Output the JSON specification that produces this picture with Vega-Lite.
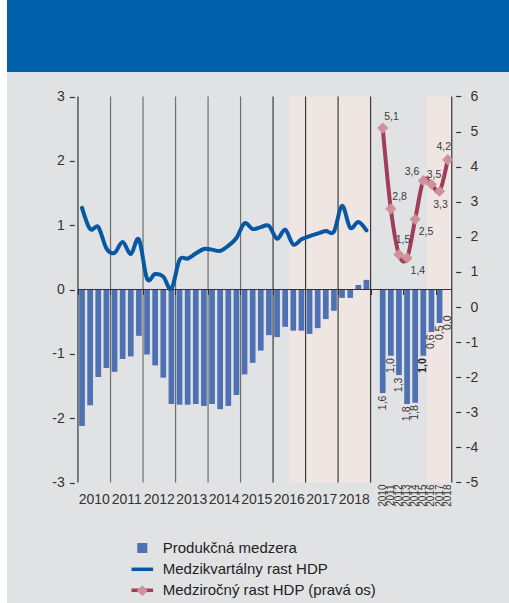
{
  "$schema": "https://vega.github.io/schema/vega-lite/v6.json",
  "background": "#FFFFFF",
  "padding": {"left": 7, "top": 0, "right": 0, "bottom": 0},
  "autosize": {"type": "pad"},
  "spacing": 0,
  "bounds": "flush",
  "config": {
    "font": "Liberation Sans",
    "view": {"stroke": null},
    "text": {"font": "Liberation Sans"},
    "axis": {"labelFont": "Liberation Sans", "zindex": 1},
    "legend": {"labelFont": "Liberation Sans"}
  },
  "datasets": {
    "quarters": [
      {"k": 0, "year": 2010, "q": 1, "gap": -2.12, "qoq": 1.27},
      {"k": 1, "year": 2010, "q": 2, "gap": -1.80, "qoq": 0.94},
      {"k": 2, "year": 2010, "q": 3, "gap": -1.36, "qoq": 0.97},
      {"k": 3, "year": 2010, "q": 4, "gap": -1.22, "qoq": 0.64},
      {"k": 4, "year": 2011, "q": 1, "gap": -1.28, "qoq": 0.57},
      {"k": 5, "year": 2011, "q": 2, "gap": -1.08, "qoq": 0.74},
      {"k": 6, "year": 2011, "q": 3, "gap": -1.04, "qoq": 0.55},
      {"k": 7, "year": 2011, "q": 4, "gap": -0.72, "qoq": 0.78},
      {"k": 8, "year": 2012, "q": 1, "gap": -1.01, "qoq": 0.17},
      {"k": 9, "year": 2012, "q": 2, "gap": -1.18, "qoq": 0.24},
      {"k": 10, "year": 2012, "q": 3, "gap": -1.37, "qoq": 0.20},
      {"k": 11, "year": 2012, "q": 4, "gap": -1.78, "qoq": 0.01},
      {"k": 12, "year": 2013, "q": 1, "gap": -1.79, "qoq": 0.46},
      {"k": 13, "year": 2013, "q": 2, "gap": -1.79, "qoq": 0.48},
      {"k": 14, "year": 2013, "q": 3, "gap": -1.78, "qoq": 0.56},
      {"k": 15, "year": 2013, "q": 4, "gap": -1.81, "qoq": 0.63},
      {"k": 16, "year": 2014, "q": 1, "gap": -1.78, "qoq": 0.62},
      {"k": 17, "year": 2014, "q": 2, "gap": -1.86, "qoq": 0.60},
      {"k": 18, "year": 2014, "q": 3, "gap": -1.81, "qoq": 0.68},
      {"k": 19, "year": 2014, "q": 4, "gap": -1.64, "qoq": 0.80},
      {"k": 20, "year": 2015, "q": 1, "gap": -1.32, "qoq": 1.03},
      {"k": 21, "year": 2015, "q": 2, "gap": -1.14, "qoq": 0.94},
      {"k": 22, "year": 2015, "q": 3, "gap": -0.95, "qoq": 0.97},
      {"k": 23, "year": 2015, "q": 4, "gap": -0.71, "qoq": 0.99},
      {"k": 24, "year": 2016, "q": 1, "gap": -0.74, "qoq": 0.79},
      {"k": 25, "year": 2016, "q": 2, "gap": -0.58, "qoq": 0.93},
      {"k": 26, "year": 2016, "q": 3, "gap": -0.64, "qoq": 0.70},
      {"k": 27, "year": 2016, "q": 4, "gap": -0.64, "qoq": 0.78},
      {"k": 28, "year": 2017, "q": 1, "gap": -0.69, "qoq": 0.83},
      {"k": 29, "year": 2017, "q": 2, "gap": -0.60, "qoq": 0.87},
      {"k": 30, "year": 2017, "q": 3, "gap": -0.46, "qoq": 0.91},
      {"k": 31, "year": 2017, "q": 4, "gap": -0.33, "qoq": 0.90},
      {"k": 32, "year": 2018, "q": 1, "gap": -0.13, "qoq": 1.30},
      {"k": 33, "year": 2018, "q": 2, "gap": -0.13, "qoq": 0.96},
      {"k": 34, "year": 2018, "q": 3, "gap": 0.07, "qoq": 1.05},
      {"k": 35, "year": 2018, "q": 4, "gap": 0.15, "qoq": 0.92}
    ],
    "annual": [
      {"k": 37, "year": 2010, "gap": -1.61, "gapLabel": "1,6", "yoy": 5.1, "yoyLabel": "5,1"},
      {"k": 38, "year": 2011, "gap": -1.03, "gapLabel": "1,0", "yoy": 2.8, "yoyLabel": "2,8"},
      {"k": 39, "year": 2012, "gap": -1.33, "gapLabel": "1,3", "yoy": 1.5, "yoyLabel": "1,5"},
      {"k": 40, "year": 2013, "gap": -1.78, "gapLabel": "1,8", "yoy": 1.4, "yoyLabel": "1,4"},
      {"k": 41, "year": 2014, "gap": -1.76, "gapLabel": "1,8", "yoy": 2.5, "yoyLabel": "2,5"},
      {"k": 42, "year": 2015, "gap": -1.03, "gapLabel": "1,0", "yoy": 3.6, "yoyLabel": "3,6"},
      {"k": 43, "year": 2016, "gap": -0.66, "gapLabel": "0,6", "yoy": 3.5, "yoyLabel": "3,5"},
      {"k": 44, "year": 2017, "gap": -0.52, "gapLabel": "0,5", "yoy": 3.3, "yoyLabel": "3,3"},
      {"k": 45, "year": 2018, "gap": 0.0, "gapLabel": "0,0", "yoy": 4.2, "yoyLabel": "4,2"}
    ],
    "shade": [
      {"from": 25.5, "to": 35.5},
      {"from": 42.5, "to": 45.5}
    ]
  },
  "vconcat": [
    {
      "width": 502,
      "height": 72,
      "data": {"values": [{}]},
      "mark": {"type": "rect", "color": "#0060AA"},
      "encoding": {}
    },
    {
      "width": 502,
      "height": 531,
      "view": {"fill": "#E1E2E4", "stroke": null},
      "resolve": {"scale": {"y": "independent"}},
      "layer": [
        {
          "layer": [
            {
              "data": {"name": "shade"},
              "mark": {"type": "rect", "color": "#EFE6E4"},
              "encoding": {
                "x": {"field": "from", "type": "quantitative", "scale": {"domain": [-8.617, 51.928], "nice": false, "zero": false}},
                "x2": {"field": "to"},
                "y": {"datum": -3, "type": "quantitative", "scale": {"domain": [-4.873, 3.381], "nice": false, "zero": false}},
                "y2": {"datum": 3}
              }
            },
            {
              "data": {"name": "quarters"},
              "transform": [{"filter": "datum.q == 4"}],
              "mark": {"type": "rule", "xOffset": 4.145, "strokeWidth": 1.2},
              "encoding": {
                "x": {"field": "k", "type": "quantitative", "scale": {"domain": [-8.617, 51.928], "nice": false, "zero": false}},
                "y": {"datum": -3, "type": "quantitative", "scale": {"domain": [-4.873, 3.381], "nice": false, "zero": false}},
                "y2": {"datum": 3},
                "color": {"condition": {"test": "datum.year >= 2015", "value": "#3a3a3a"}, "value": "#6e6e6e"}
              }
            },
            {
              "data": {"values": [{}]},
              "mark": {"type": "rule", "color": "#333333", "strokeWidth": 1.2},
              "encoding": {
                "x": {"datum": -0.5, "type": "quantitative", "scale": {"domain": [-8.617, 51.928], "nice": false, "zero": false}},
                "y": {"datum": -3, "type": "quantitative", "scale": {"domain": [-4.873, 3.381], "nice": false, "zero": false}},
                "y2": {"datum": 3}
              }
            },
            {
              "data": {"name": "quarters"},
              "mark": {"type": "bar", "width": 5.7},
              "encoding": {
                "x": {"field": "k", "type": "quantitative", "scale": {"domain": [-8.617, 51.928], "nice": false, "zero": false},
                  "axis": {"orient": "bottom", "offset": -313.5, "zindex": 2, "title": null, "labels": false, "domain": false, "grid": false, "ticks": true, "tickSize": 5, "tickColor": "#333333", "tickWidth": 1, "tickOpacity": 1,
                    "values": [-0.5,0.5,1.5,2.5,3.5,4.5,5.5,6.5,7.5,8.5,9.5,10.5,11.5,12.5,13.5,14.5,15.5,16.5,17.5,18.5,19.5,20.5,21.5,22.5,23.5,24.5,25.5,26.5,27.5,28.5,29.5,30.5,31.5,32.5,33.5,34.5,35.5,36.5,37.5,38.5,39.5,40.5,41.5,42.5,43.5,44.5,45.5]}},
                "y": {"field": "gap", "type": "quantitative", "scale": {"domain": [-4.873, 3.381], "nice": false, "zero": false},
                  "axis": {"orient": "left", "offset": -67.3, "zindex": 2, "title": null, "domain": false, "grid": false, "ticks": true, "tickSize": 5, "tickColor": "#333333", "tickWidth": 1.2, "tickOpacity": 1, "values": [-3, -2, -1, 0, 1, 2, 3], "labelFontSize": 14, "labelColor": "#333333", "labelOpacity": 1, "labelPadding": 5, "labelExpr": "datum.value < 0 ? '-' + abs(datum.value) : '' + datum.value"}},
                "y2": {"datum": 0},
                "color": {"datum": "Produkčná medzera",
                  "scale": {"domain": ["Produkčná medzera"], "range": ["#4E71B4"]},
                  "legend": {"orient": "none", "legendX": 127.8, "legendY": 540.5, "title": null, "padding": 0, "symbolOffset": 0, "symbolType": "square", "symbolSize": 100, "symbolStrokeWidth": 0, "labelFontSize": 15, "labelColor": "#222222", "labelOffset": 12.9, "rowPadding": 0, "labelLimit": 400}}
              }
            },
            {
              "data": {"name": "annual"},
              "mark": {"type": "bar", "width": 5.7},
              "encoding": {
                "x": {"field": "k", "type": "quantitative", "scale": {"domain": [-8.617, 51.928], "nice": false, "zero": false}},
                "y": {"field": "gap", "type": "quantitative", "scale": {"domain": [-4.873, 3.381], "nice": false, "zero": false}},
                "y2": {"datum": 0},
                "color": {"datum": "Produkčná medzera", "scale": {"domain": ["Produkčná medzera"], "range": ["#4E71B4"]}, "legend": null}
              }
            },
            {
              "data": {"values": [{}]},
              "mark": {"type": "rule", "color": "#333333", "strokeWidth": 1.2},
              "encoding": {
                "x": {"datum": -0.5, "type": "quantitative", "scale": {"domain": [-8.617, 51.928], "nice": false, "zero": false}},
                "x2": {"datum": 45.5},
                "y": {"datum": 0, "type": "quantitative", "scale": {"domain": [-4.873, 3.381], "nice": false, "zero": false}}
              }
            },
            {
              "data": {"name": "quarters"},
              "mark": {"type": "line", "interpolate": "cardinal", "strokeWidth": 4, "strokeCap": "round", "strokeJoin": "round"},
              "encoding": {
                "x": {"field": "k", "type": "quantitative", "scale": {"domain": [-8.617, 51.928], "nice": false, "zero": false}},
                "y": {"field": "qoq", "type": "quantitative", "scale": {"domain": [-4.873, 3.381], "nice": false, "zero": false}},
                "stroke": {"datum": "Medzikvartálny rast HDP",
                  "scale": {"domain": ["Medzikvartálny rast HDP", "Medziročný rast HDP (pravá os)"], "range": ["#0757A2", "#A03D5B"]},
                  "legend": {"orient": "none", "legendX": 122.3, "legendY": 556.3, "title": null, "padding": 0, "symbolOffset": 0, "symbolType": "stroke", "symbolSize": 467, "symbolStrokeWidth": 3.5, "labelFontSize": 15, "labelColor": "#222222", "labelOffset": 7.4, "rowPadding": 0, "labelLimit": 400}}
              }
            },
            {
              "data": {"name": "quarters"},
              "transform": [{"aggregate": [{"op": "mean", "field": "k", "as": "kc"}], "groupby": ["year"]}],
              "mark": {"type": "text", "fontSize": 14, "baseline": "middle", "align": "center", "dy": 17, "color": "#333333"},
              "encoding": {
                "x": {"field": "kc", "type": "quantitative", "scale": {"domain": [-8.617, 51.928], "nice": false, "zero": false}},
                "y": {"datum": -3, "type": "quantitative", "scale": {"domain": [-4.873, 3.381], "nice": false, "zero": false}},
                "text": {"field": "year", "type": "nominal"}
              }
            },
            {
              "data": {"name": "annual"},
              "mark": {"type": "text", "fontSize": 10, "angle": 270, "align": "right", "baseline": "middle", "dx": -2, "color": "#333333"},
              "encoding": {
                "x": {"field": "k", "type": "quantitative", "scale": {"domain": [-8.617, 51.928], "nice": false, "zero": false}},
                "y": {"datum": -3, "type": "quantitative", "scale": {"domain": [-4.873, 3.381], "nice": false, "zero": false}},
                "text": {"field": "year", "type": "nominal"}
              }
            },
            {
              "data": {"name": "annual"},
              "transform": [{"filter": "datum.year != 2015 && datum.year != 2018"}],
              "mark": {"type": "text", "fontSize": 10.5, "angle": 270, "align": "right", "baseline": "middle", "dx": -2.5, "color": "#333333"},
              "encoding": {
                "x": {"field": "k", "type": "quantitative", "scale": {"domain": [-8.617, 51.928], "nice": false, "zero": false}},
                "y": {"field": "gap", "type": "quantitative", "scale": {"domain": [-4.873, 3.381], "nice": false, "zero": false}},
                "text": {"field": "gapLabel", "type": "nominal"}
              }
            },
            {
              "data": {"name": "annual"},
              "transform": [{"filter": "datum.year == 2015"}],
              "mark": {"type": "text", "fontSize": 10.5, "fontWeight": "bold", "angle": 270, "align": "right", "baseline": "middle", "dx": -2.5, "color": "#222222"},
              "encoding": {
                "x": {"field": "k", "type": "quantitative", "scale": {"domain": [-8.617, 51.928], "nice": false, "zero": false}},
                "y": {"field": "gap", "type": "quantitative", "scale": {"domain": [-4.873, 3.381], "nice": false, "zero": false}},
                "text": {"field": "gapLabel", "type": "nominal"}
              }
            },
            {
              "data": {"name": "annual"},
              "transform": [{"filter": "datum.year == 2018"}],
              "mark": {"type": "text", "fontSize": 10.5, "angle": 270, "align": "right", "baseline": "middle", "dx": -26, "color": "#333333"},
              "encoding": {
                "x": {"field": "k", "type": "quantitative", "scale": {"domain": [-8.617, 51.928], "nice": false, "zero": false}},
                "y": {"field": "gap", "type": "quantitative", "scale": {"domain": [-4.873, 3.381], "nice": false, "zero": false}},
                "text": {"field": "gapLabel", "type": "nominal"}
              }
            }
          ]
        },
        {
          "layer": [
            {
              "data": {"values": [{}]},
              "mark": {"type": "rule", "color": "#333333", "strokeWidth": 1.2},
              "encoding": {
                "x": {"datum": 45.5, "type": "quantitative", "scale": {"domain": [-8.617, 51.928], "nice": false, "zero": false}},
                "y": {"datum": -5, "type": "quantitative", "scale": {"domain": [-8.434, 6.698], "nice": false, "zero": false}},
                "y2": {"datum": 6}
              }
            },
            {
              "data": {"name": "annual"},
              "mark": {"type": "line", "interpolate": "cardinal", "strokeWidth": 4, "strokeCap": "round", "strokeJoin": "round"},
              "encoding": {
                "x": {"field": "k", "type": "quantitative", "scale": {"domain": [-8.617, 51.928], "nice": false, "zero": false}},
                "y": {"field": "yoy", "type": "quantitative", "scale": {"domain": [-8.434, 6.698], "nice": false, "zero": false},
                  "axis": {"orient": "right", "offset": -53.3, "zindex": 2, "title": null, "domain": false, "grid": false, "ticks": true, "tickSize": 5, "tickColor": "#333333", "tickWidth": 1.2, "tickOpacity": 1, "values": [-5, -4, -3, -2, -1, 0, 1, 2, 3, 4, 5, 6], "labelFontSize": 14, "labelColor": "#333333", "labelOpacity": 1, "labelAlign": "right", "labelPadding": 17, "labelExpr": "datum.value < 0 ? '-' + abs(datum.value) : '' + datum.value"}},
                "stroke": {"datum": "Medziročný rast HDP (pravá os)", "scale": {"domain": ["Medzikvartálny rast HDP", "Medziročný rast HDP (pravá os)"], "range": ["#0757A2", "#A03D5B"]}, "legend": null}
              }
            },
            {
              "data": {"name": "annual"},
              "mark": {"type": "point", "filled": true, "color": "#CF9298", "size": 125, "opacity": 1, "strokeWidth": 0},
              "encoding": {
                "x": {"field": "k", "type": "quantitative", "scale": {"domain": [-8.617, 51.928], "nice": false, "zero": false}},
                "y": {"field": "yoy", "type": "quantitative", "scale": {"domain": [-8.434, 6.698], "nice": false, "zero": false}},
                "shape": {"datum": "Medziročný rast HDP (pravá os)", "scale": {"domain": ["Medziročný rast HDP (pravá os)"], "range": ["diamond"]},
                  "legend": {"orient": "none", "legendX": 127.8, "legendY": 583.2, "title": null, "padding": 0, "symbolOffset": 0, "symbolSize": 120, "symbolStrokeWidth": 0, "symbolFillColor": "#CF9298", "symbolStrokeColor": "transparent", "symbolOpacity": 1, "labelFontSize": 15, "labelOffset": 7, "labelExpr": "''"}}
              }
            },
            {
              "data": {"name": "annual"},
              "transform": [{"filter": "datum.year == 2010 || datum.year == 2011"}],
              "mark": {"type": "text", "fontSize": 10.5, "align": "left", "baseline": "middle", "dx": 1.5, "dy": -11.5, "color": "#3a3a3a"},
              "encoding": {
                "x": {"field": "k", "type": "quantitative", "scale": {"domain": [-8.617, 51.928], "nice": false, "zero": false}},
                "y": {"field": "yoy", "type": "quantitative", "scale": {"domain": [-8.434, 6.698], "nice": false, "zero": false}},
                "text": {"field": "yoyLabel", "type": "nominal"}
              }
            },
            {
              "data": {"name": "annual"},
              "transform": [{"filter": "datum.year == 2012"}],
              "mark": {"type": "text", "fontSize": 10.5, "align": "center", "baseline": "middle", "dx": 4, "dy": -14.5, "color": "#3a3a3a"},
              "encoding": {
                "x": {"field": "k", "type": "quantitative", "scale": {"domain": [-8.617, 51.928], "nice": false, "zero": false}},
                "y": {"field": "yoy", "type": "quantitative", "scale": {"domain": [-8.434, 6.698], "nice": false, "zero": false}},
                "text": {"field": "yoyLabel", "type": "nominal"}
              }
            },
            {
              "data": {"name": "annual"},
              "transform": [{"filter": "datum.year == 2013 || datum.year == 2014"}],
              "mark": {"type": "text", "fontSize": 10.5, "align": "left", "baseline": "middle", "dx": 3.5, "dy": 13, "color": "#3a3a3a"},
              "encoding": {
                "x": {"field": "k", "type": "quantitative", "scale": {"domain": [-8.617, 51.928], "nice": false, "zero": false}},
                "y": {"field": "yoy", "type": "quantitative", "scale": {"domain": [-8.434, 6.698], "nice": false, "zero": false}},
                "text": {"field": "yoyLabel", "type": "nominal"}
              }
            },
            {
              "data": {"name": "annual"},
              "transform": [{"filter": "datum.year == 2015"}],
              "mark": {"type": "text", "fontSize": 10.5, "align": "right", "baseline": "middle", "dx": -4, "dy": -9, "color": "#3a3a3a"},
              "encoding": {
                "x": {"field": "k", "type": "quantitative", "scale": {"domain": [-8.617, 51.928], "nice": false, "zero": false}},
                "y": {"field": "yoy", "type": "quantitative", "scale": {"domain": [-8.434, 6.698], "nice": false, "zero": false}},
                "text": {"field": "yoyLabel", "type": "nominal"}
              }
            },
            {
              "data": {"name": "annual"},
              "transform": [{"filter": "datum.year == 2016"}],
              "mark": {"type": "text", "fontSize": 10.5, "align": "center", "baseline": "middle", "dx": 2.5, "dy": -9, "color": "#3a3a3a"},
              "encoding": {
                "x": {"field": "k", "type": "quantitative", "scale": {"domain": [-8.617, 51.928], "nice": false, "zero": false}},
                "y": {"field": "yoy", "type": "quantitative", "scale": {"domain": [-8.434, 6.698], "nice": false, "zero": false}},
                "text": {"field": "yoyLabel", "type": "nominal"}
              }
            },
            {
              "data": {"name": "annual"},
              "transform": [{"filter": "datum.year == 2017"}],
              "mark": {"type": "text", "fontSize": 10.5, "align": "center", "baseline": "middle", "dx": 1, "dy": 14, "color": "#3a3a3a"},
              "encoding": {
                "x": {"field": "k", "type": "quantitative", "scale": {"domain": [-8.617, 51.928], "nice": false, "zero": false}},
                "y": {"field": "yoy", "type": "quantitative", "scale": {"domain": [-8.434, 6.698], "nice": false, "zero": false}},
                "text": {"field": "yoyLabel", "type": "nominal"}
              }
            },
            {
              "data": {"name": "annual"},
              "transform": [{"filter": "datum.year == 2018"}],
              "mark": {"type": "text", "fontSize": 10.5, "align": "center", "baseline": "middle", "dx": -4, "dy": -13, "color": "#3a3a3a"},
              "encoding": {
                "x": {"field": "k", "type": "quantitative", "scale": {"domain": [-8.617, 51.928], "nice": false, "zero": false}},
                "y": {"field": "yoy", "type": "quantitative", "scale": {"domain": [-8.434, 6.698], "nice": false, "zero": false}},
                "text": {"field": "yoyLabel", "type": "nominal"}
              }
            }
          ]
        }
      ]
    }
  ]
}
